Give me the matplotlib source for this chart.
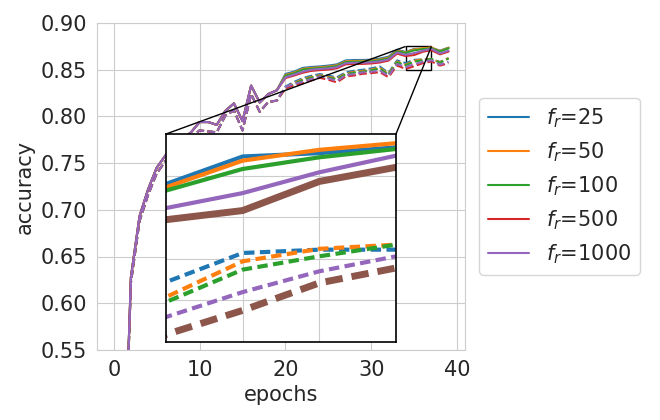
#!/usr/bin/env python3
"""
Accuracy vs. epochs for different f_r values, with a zoomed inset
on the last few epochs.
"""
import matplotlib
matplotlib.use("Agg")
import matplotlib.pyplot as plt
import seaborn as sns
from mpl_toolkits.axes_grid1.inset_locator import mark_inset

# Epochs 0..39
EPOCHS = list(range(40))

# Epochs 0..19: all runs sit on top of each other
EARLY_SOLID = [0.10, 0.350, 0.628, 0.693, 0.722, 0.745, 0.758, 0.768, 0.776, 0.783,
               0.794, 0.794, 0.791, 0.806, 0.814, 0.795, 0.833, 0.815, 0.824, 0.828]
EARLY_DASHED = [0.09, 0.345, 0.622, 0.688, 0.716, 0.739, 0.752, 0.760, 0.768, 0.778,
                0.785, 0.784, 0.783, 0.801, 0.8065, 0.785, 0.824, 0.805, 0.8155, 0.817]

# Epochs 20..39, solid lines
SOLID_25 = [0.8455, 0.848, 0.852, 0.853, 0.8536, 0.8545, 0.8558, 0.860, 0.8605, 0.8605,
            0.8608, 0.862, 0.864, 0.8715, 0.8690, 0.8723, 0.8727, 0.8734, 0.8705, 0.8737]
SOLID_50 = [0.8445, 0.847, 0.851, 0.852, 0.8526, 0.8535, 0.8548, 0.859, 0.8595, 0.8595,
            0.8598, 0.861, 0.863, 0.8705, 0.8686, 0.8718, 0.8731, 0.8739, 0.8700, 0.8735]
SOLID_100 = [0.8437, 0.8462, 0.8502, 0.8512, 0.8518, 0.8527, 0.854, 0.8582, 0.8587, 0.8587,
             0.859, 0.8602, 0.8622, 0.8697, 0.8682, 0.8708, 0.8722, 0.8732, 0.8695, 0.8730]
SOLID_500 = [0.8412, 0.8438, 0.8468, 0.8488, 0.8496, 0.8503, 0.8516, 0.8558, 0.8563, 0.8563,
             0.8568, 0.8578, 0.8598, 0.8673, 0.8647, 0.8658, 0.8693, 0.8710, 0.8665, 0.8695]
SOLID_1000 = [0.842, 0.8448, 0.848, 0.850, 0.8508, 0.8515, 0.8528, 0.857, 0.8575, 0.8575,
              0.858, 0.859, 0.861, 0.8685, 0.8661, 0.8679, 0.8704, 0.8724, 0.8675, 0.8705]

# Epochs 20..39, dashed lines
DASHED_25 = [0.832, 0.837, 0.841, 0.8436, 0.8454, 0.8436, 0.842, 0.8472, 0.849, 0.850,
             0.8515, 0.8535, 0.8465, 0.860, 0.8572, 0.8607, 0.8611, 0.8611, 0.8585, 0.8625]
DASHED_50 = [0.8308, 0.8358, 0.8398, 0.8424, 0.8442, 0.8424, 0.8408, 0.846, 0.8478, 0.8488,
             0.8503, 0.8523, 0.8453, 0.8588, 0.8554, 0.8597, 0.8612, 0.8617, 0.8580, 0.8625]
DASHED_100 = [0.830, 0.835, 0.839, 0.8416, 0.8434, 0.8416, 0.840, 0.8452, 0.847, 0.848,
              0.8495, 0.8515, 0.8445, 0.858, 0.8548, 0.8587, 0.8603, 0.8617, 0.8575, 0.8620]
DASHED_500 = [0.830, 0.8332, 0.8357, 0.8386, 0.8414, 0.8393, 0.8365, 0.8428, 0.8439, 0.8457,
              0.8464, 0.8475, 0.8421, 0.8546, 0.8509, 0.8538, 0.8571, 0.8589, 0.8545, 0.8570]
DASHED_1000 = [0.8315, 0.8347, 0.8372, 0.8401, 0.8429, 0.8408, 0.838, 0.8443, 0.8454, 0.8472,
               0.8479, 0.849, 0.8436, 0.8561, 0.8530, 0.8560, 0.8585, 0.8603, 0.8555, 0.8585]

FR_VALUES = [25, 50, 100, 500, 1000]
SOLID = [SOLID_25, SOLID_50, SOLID_100, SOLID_500, SOLID_1000]
DASHED = [DASHED_25, DASHED_50, DASHED_100, DASHED_500, DASHED_1000]

COLORS = ['C0', 'C1', 'C2', 'C3', 'C4']
INSET_COLORS = ['C0', 'C1', 'C2', 'C5', 'C4']
INSET_WIDTHS = [3, 3, 3, 5, 3]


def main():
    sns.set_style("whitegrid")
    plt.rcParams['font.family'] = ['DejaVu Sans']

    fig = plt.figure(figsize=(6.6, 4.2), dpi=100)
    ax = fig.add_axes([0.147, 0.167, 0.558, 0.778])

    for fr, solid, dashed, color in zip(FR_VALUES, SOLID, DASHED, COLORS):
        ax.plot(EPOCHS, EARLY_SOLID + solid, color=color, lw=1.5,
                label=r'$f_r$=' + str(fr))
        ax.plot(EPOCHS, EARLY_DASHED + dashed, color=color, lw=1.5, ls='--')

    ax.set_ylim(0.55, 0.90)
    ax.set_xticks([0, 10, 20, 30, 40])
    ax.set_yticks([0.55, 0.60, 0.65, 0.70, 0.75, 0.80, 0.85, 0.90])
    ax.set_yticklabels(['%.2f' % v for v in ax.get_yticks()])
    ax.tick_params(labelsize=15)
    ax.set_xlabel('epochs', fontsize=15)
    ax.set_ylabel('accuracy', fontsize=15)
    ax.legend(loc='center left', bbox_to_anchor=(1.01, 0.5), fontsize=15)

    # zoomed inset on the last epochs
    axins = fig.add_axes([0.2515, 0.1857, 0.3485, 0.4952])
    for solid, dashed, color, lw in zip(SOLID, DASHED, INSET_COLORS, INSET_WIDTHS):
        axins.plot(EPOCHS, EARLY_SOLID + solid, color=color, lw=lw)
        axins.plot(EPOCHS, EARLY_DASHED + dashed, color=color, lw=lw,
                   ls=(0, (2.5, 1.3)))
    axins.set_xlim(34, 37)
    axins.set_ylim(0.85, 0.875)
    axins.set_xticks([35, 36])
    axins.set_yticks([0.855, 0.86, 0.865, 0.87])
    axins.set_xticklabels([])
    axins.set_yticklabels([])
    for spine in axins.spines.values():
        spine.set_edgecolor('black')
        spine.set_linewidth(1.2)

    mark_inset(ax, axins, loc1=2, loc2=1, fc="none", ec="black", lw=1)

    fig.savefig('out.png', dpi=100, facecolor='white')
    plt.close(fig)


if __name__ == "__main__":
    main()
